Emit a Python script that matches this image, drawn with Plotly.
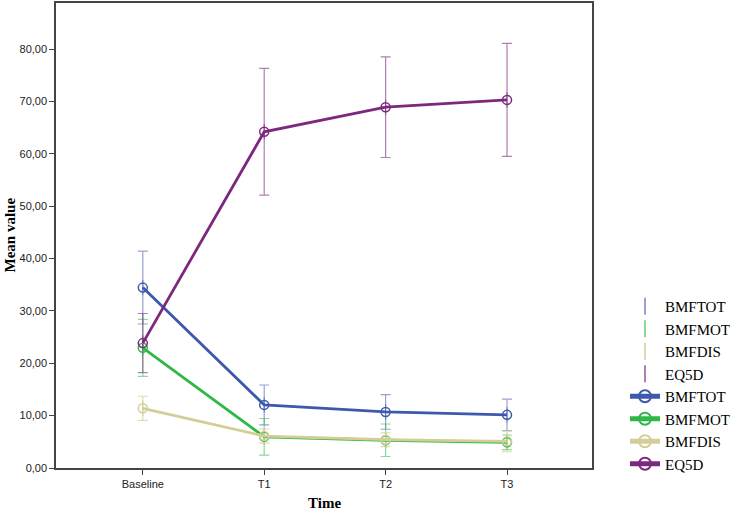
import plotly.graph_objects as go

categories = ["Baseline", "T1", "T2", "T3"]

series_names = ["BMFTOT", "BMFMOT", "BMFDIS", "EQ5D"]
bmftot_mean = [34.45, 12.05, 10.7, 10.15]
bmftot_err = [6.95, 3.8, 3.3, 3.0]
bmfmot_mean = [22.95, 5.95, 5.3, 4.9]
bmfmot_err = [5.45, 3.5, 3.1, 1.4]
bmfdis_mean = [11.4, 6.1, 5.4, 5.1]
bmfdis_err = [2.3, 1.35, 1.3, 2.0]
eq5d_mean = [23.85, 64.2, 68.9, 70.3]
eq5d_err = [5.65, 12.1, 9.6, 10.8]

x_title = "Time"
y_title = "Mean value"

line_colors = ["#3e58ac", "#2eb848", "#d3ce97", "#7c287d"]
err_colors = ["rgba(62,88,172,0.55)", "rgba(46,184,72,0.55)",
              "rgba(211,206,151,0.75)", "rgba(124,40,125,0.6)"]

means = [bmftot_mean, bmfmot_mean, bmfdis_mean, eq5d_mean]
errs = [bmftot_err, bmfmot_err, bmfdis_err, eq5d_err]

fig = go.Figure()

# error bar traces
for name, m, e, c in zip(series_names, means, errs, err_colors):
    fig.add_trace(go.Scatter(
        x=categories, y=m, name=name, mode="markers",
        marker=dict(symbol="line-ns-open", size=11, color=c,
                    line=dict(color=c, width=1.2)),
        error_y=dict(type="data", array=e, visible=True, color=c,
                     thickness=1.2, width=5),
        hoverinfo="skip",
    ))

# mean lines
for name, m, c in zip(series_names, means, line_colors):
    fig.add_trace(go.Scatter(
        x=categories, y=m, name=name, mode="lines+markers",
        line=dict(color=c, width=2.8),
        marker=dict(symbol="circle-open", size=9, color=c,
                    line=dict(color=c, width=1.5)),
    ))

fig.update_layout(
    width=746, height=510,
    margin=dict(l=56, r=154, t=3, b=42, autoexpand=False),
    plot_bgcolor="white", paper_bgcolor="white",
    separators=",.",
    showlegend=True,
    legend=dict(
        xref="container", yref="container",
        x=625 / 746, y=1 - 290 / 510, xanchor="left", yanchor="top",
        font=dict(family="Liberation Serif", size=15, color="black"),
        tracegroupgap=0, itemsizing="constant",
        bgcolor="rgba(0,0,0,0)",
    ),
    font=dict(family="Liberation Sans", color="#222"),
    annotations=[
        dict(text="<b>" + x_title + "</b>", xref="paper", yref="paper",
             x=0.5, y=-0.075, xanchor="center", yanchor="middle",
             showarrow=False,
             font=dict(family="Liberation Serif", size=15, color="black")),
        dict(text="<b>" + y_title + "</b>", xref="paper", yref="paper",
             x=(9 - 56) / 536, y=0.5, xanchor="center", yanchor="middle",
             textangle=-90, showarrow=False,
             font=dict(family="Liberation Serif", size=15, color="black")),
    ],
)

fig.update_xaxes(
    type="category", range=[-0.715, 3.7], automargin=False,
    showline=True, linecolor="#444", linewidth=1.5, mirror=True,
    ticks="outside", ticklen=5, tickcolor="#444", tickwidth=1,
    showgrid=False, zeroline=False,
    tickfont=dict(family="Liberation Sans", size=11, color="#222"),
)
fig.update_yaxes(
    range=[0, 88.8], tickvals=[0, 10, 20, 30, 40, 50, 60, 70, 80],
    tickformat=".2f", automargin=False,
    showline=True, linecolor="#444", linewidth=1.5, mirror=True,
    ticks="outside", ticklen=5, tickcolor="#444", tickwidth=1,
    showgrid=False, zeroline=False,
    tickfont=dict(family="Liberation Sans", size=11, color="#222"),
)

fig.write_html(
    "out.html",
    config={"displayModeBar": False},
    post_script="document.body.style.margin='0';document.body.style.overflow='hidden';",
)
